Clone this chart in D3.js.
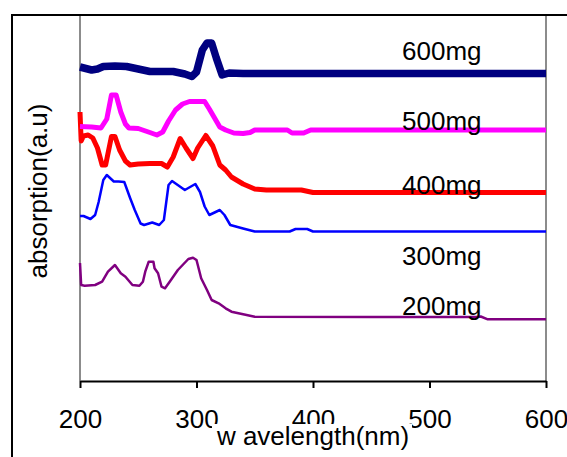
<!DOCTYPE html>
<html lang="en">
<head>
  <meta charset="UTF-8" />
  <title>Absorption spectra</title>
  <script src="https://d3js.org/d3.v7.min.js"></script>
  <style>
    body {
      margin: 0;
      background: #fff;
      font-family: Arial, "Liberation Sans", sans-serif;
    }
    .line {
      fill: none;
      stroke-linejoin: round;
    }
    .lbl {
      font-size: 26px;
      fill: #000;
    }
  </style>
</head>
<body>
<svg width="567" height="457"></svg>

<script>
// series names, top to bottom
const seriesNames = ["600mg", "500mg", "400mg", "300mg", "200mg"];

// wavelength (nm) and absorption (a.u.)
const wl600  = [200, 205, 210, 215, 220, 230, 240, 250, 260, 270, 280, 290, 296, 300, 305, 309, 313, 317, 322, 328, 340, 400, 500, 600];
const abs600 = [3.14, 3.125, 3.11, 3.12, 3.145, 3.15, 3.145, 3.12, 3.095, 3.095, 3.095, 3.07, 3.045, 3.09, 3.31, 3.38, 3.38, 3.23, 3.06, 3.08, 3.075, 3.075, 3.075, 3.075];

const wl500  = [200, 210, 218, 223, 227, 231, 235, 239, 242, 250, 260, 266, 271, 276, 282, 288, 294, 300, 307, 311, 315, 320, 325, 332, 340, 346, 350, 378, 382, 392, 398, 500, 600];
const abs500 = [2.545, 2.54, 2.53, 2.62, 2.86, 2.86, 2.69, 2.57, 2.53, 2.525, 2.485, 2.46, 2.49, 2.60, 2.71, 2.77, 2.795, 2.795, 2.795, 2.72, 2.64, 2.54, 2.51, 2.48, 2.475, 2.485, 2.51, 2.51, 2.48, 2.48, 2.51, 2.51, 2.51];

const wl400  = [200, 201, 203, 207, 211, 215, 219, 222, 227, 230, 234, 239, 243, 250, 260, 270, 275, 280, 286, 291, 297, 301, 308, 314, 320, 325, 330, 340, 350, 360, 390, 400, 500, 600];
const abs400 = [2.69, 2.40, 2.45, 2.46, 2.43, 2.33, 2.16, 2.16, 2.445, 2.445, 2.31, 2.20, 2.16, 2.17, 2.175, 2.175, 2.14, 2.24, 2.425, 2.33, 2.225, 2.33, 2.455, 2.35, 2.16, 2.11, 2.04, 1.97, 1.92, 1.91, 1.91, 1.885, 1.885, 1.885];

const wl300  = [200, 203, 209, 213, 216, 220, 223, 229, 233, 238, 243, 247, 252, 255, 262, 268, 272, 276, 279, 290, 299, 303, 307, 311, 320, 324, 329, 340, 350, 380, 385, 395, 400, 500, 600];
const abs300 = [1.65, 1.65, 1.62, 1.66, 1.79, 2.01, 2.06, 1.995, 1.995, 1.99, 1.83, 1.71, 1.575, 1.56, 1.585, 1.56, 1.61, 1.96, 2.00, 1.91, 1.97, 1.89, 1.745, 1.66, 1.71, 1.66, 1.56, 1.525, 1.495, 1.495, 1.52, 1.52, 1.495, 1.495, 1.495];

const wl200  = [200, 201, 204, 213, 219, 224, 230, 235, 239, 245, 251, 254, 256, 259, 263, 264, 267, 270, 273, 277, 284, 293, 297, 300, 304, 309, 313, 319, 325, 330, 350, 450, 540, 544, 550, 600];
const abs200 = [1.18, 0.96, 0.953, 0.96, 0.993, 1.093, 1.16, 1.077, 1.043, 0.96, 0.953, 0.993, 1.093, 1.193, 1.193, 1.127, 1.077, 0.943, 0.927, 0.993, 1.11, 1.22, 1.233, 1.21, 1.027, 0.91, 0.81, 0.777, 0.727, 0.693, 0.643, 0.641, 0.64, 0.645, 0.617, 0.617];

// x axis ticks
const xTicks = [200, 300, 400, 500, 600];

const svg = d3.select("svg");

// plot area
const plotL = 80, plotR = 546, plotT = 15, plotB = 381;

const x = d3.scaleLinear().domain([200, 600]).range([plotL, plotR]);
const y = d3.scaleLinear().domain([0, 3.66]).range([plotB, plotT]);

// chart frame (runs off the right and bottom edge)
svg.append("path")
  .attr("d", "M12,457 V15 H567")
  .attr("fill", "none")
  .attr("stroke", "#000")
  .attr("stroke-width", 2);

// grey side borders of plot area
svg.append("line")
  .attr("x1", plotL).attr("x2", plotL).attr("y1", 16).attr("y2", plotB)
  .attr("stroke", "#8c8c8c").attr("stroke-width", 2);
svg.append("line")
  .attr("x1", plotR).attr("x2", plotR).attr("y1", 16).attr("y2", plotB)
  .attr("stroke", "#8c8c8c").attr("stroke-width", 2);

// series
const series = [
  { name: seriesNames[4], wl: wl200, val: abs200, color: "#800080", width: 2.5 },
  { name: seriesNames[3], wl: wl300, val: abs300, color: "#0000ff", width: 2.5 },
  { name: seriesNames[2], wl: wl400, val: abs400, color: "#ff0000", width: 5 },
  { name: seriesNames[1], wl: wl500, val: abs500, color: "#ff00ff", width: 5 },
  { name: seriesNames[0], wl: wl600, val: abs600, color: "#000080", width: 7.5 }
];

const line = d3.line()
  .x(d => x(d[0]))
  .y(d => y(d[1]));

series.forEach(s => {
  svg.append("path")
    .attr("class", "line")
    .attr("d", line(s.wl.map((w, i) => [w, s.val[i]])))
    .attr("stroke", s.color)
    .attr("stroke-width", s.width);
});

// x axis
const xAxis = svg.append("g")
  .attr("transform", `translate(0,${plotB})`)
  .call(d3.axisBottom(x).tickValues(xTicks).tickSize(7).tickPadding(12).tickSizeOuter(0));
xAxis.select(".domain").attr("stroke", "#000").attr("stroke-width", 2);
xAxis.selectAll(".tick line").attr("stroke", "#000").attr("stroke-width", 2);
xAxis.selectAll(".tick text")
  .attr("font-family", "Arial, 'Liberation Sans', sans-serif")
  .attr("font-size", 26)
  .attr("fill", "#000")
  .attr("dy", null)
  .attr("y", 47);

// series labels (baseline positions in px)
const labelY = { "600mg": 60, "500mg": 130, "400mg": 194, "300mg": 265, "200mg": 315 };
seriesNames.forEach(n => {
  svg.append("text")
    .attr("class", "lbl")
    .attr("x", 402)
    .attr("y", labelY[n])
    .text(n);
});

// axis titles
svg.append("rect")
  .attr("x", 212).attr("y", 424).attr("width", 200).attr("height", 33)
  .attr("fill", "#fff");
svg.append("text")
  .attr("class", "lbl")
  .attr("x", (plotL + plotR) / 2)
  .attr("y", 445)
  .attr("text-anchor", "middle")
  .text("w avelength(nm)");

svg.append("text")
  .attr("class", "lbl")
  .attr("transform", "translate(47,191) rotate(-90)")
  .attr("text-anchor", "middle")
  .text("absorption(a.u)");
</script>
</body>
</html>
